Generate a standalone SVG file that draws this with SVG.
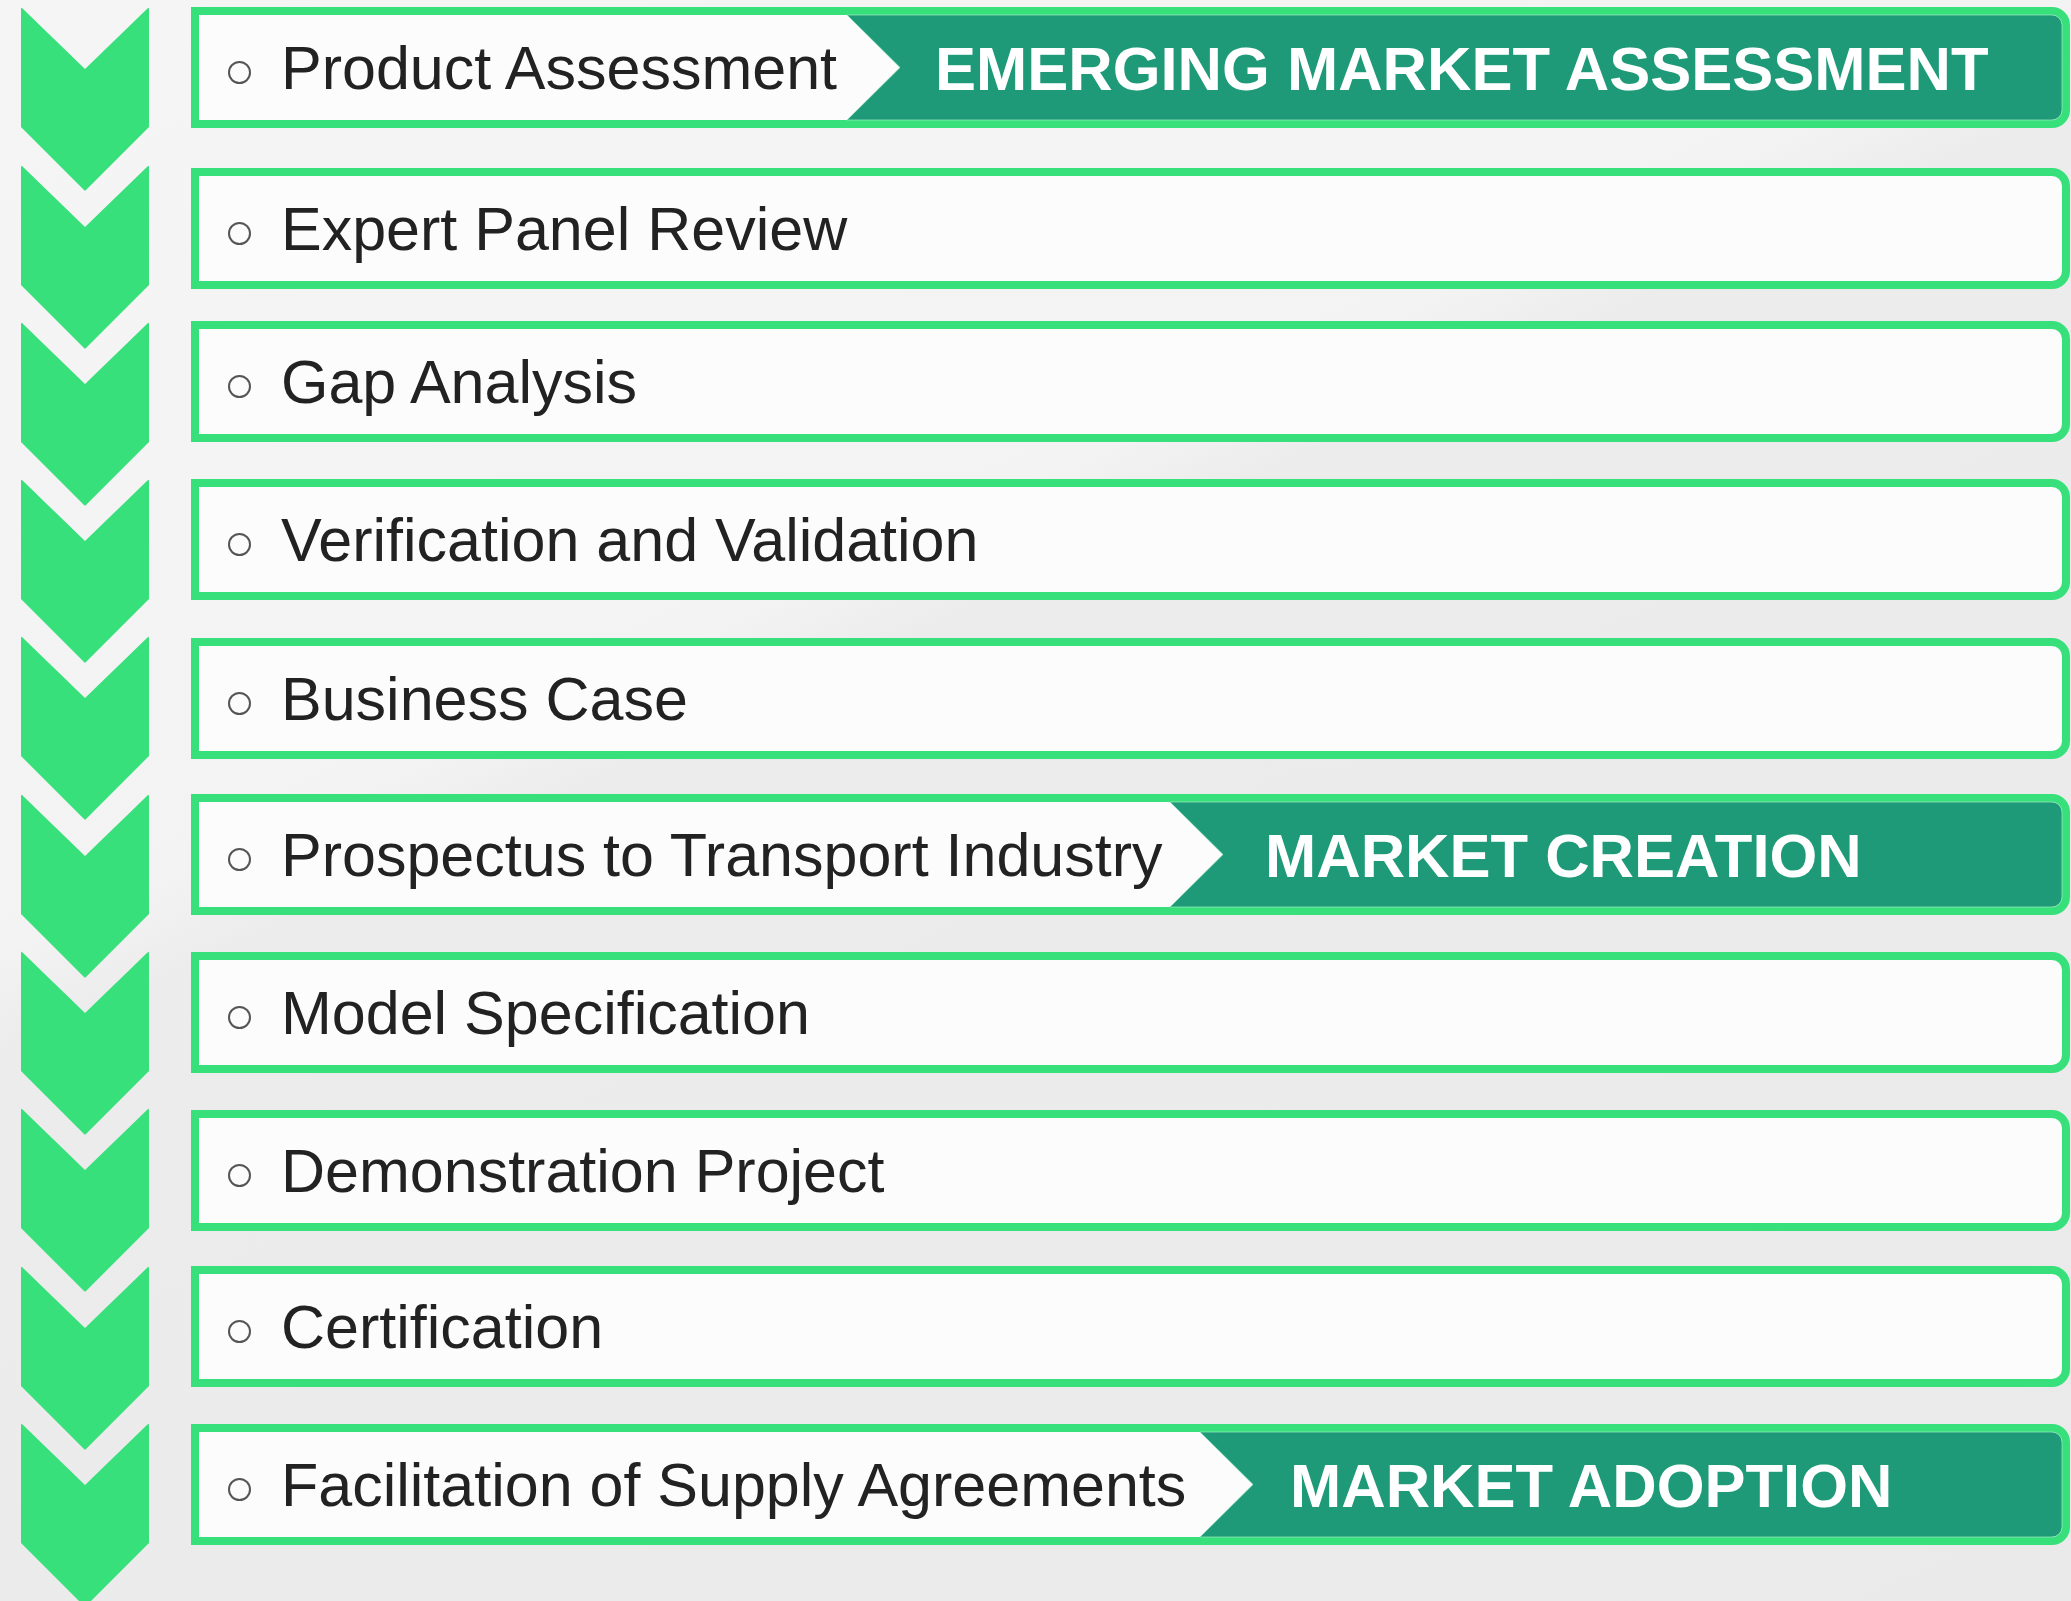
<svg xmlns="http://www.w3.org/2000/svg" width="2071" height="1601" viewBox="0 0 2071 1601">
  <defs>
    <linearGradient id="bg" gradientUnits="userSpaceOnUse" x1="0" y1="0" x2="950" y2="2071">
      <stop offset="0" stop-color="#f5f5f5"/>
      <stop offset="0.38" stop-color="#f3f3f3"/>
      <stop offset="0.42" stop-color="#ececec"/>
      <stop offset="1" stop-color="#eaeaea"/>
    </linearGradient>
    <path id="chev" d="M22,1 L85,62 L148,1 Q149,0 149,3 V120 L86,183 Q85,184 84,183 L21,120 V3 Q21,0 22,1 Z"/>
    <style>
      .box { fill: #fcfcfc; stroke: #38e07b; stroke-width: 8; }
      .banner { fill: #1f9a78; stroke: #9fe9c2; stroke-width: 1; stroke-opacity: 0.7; }
      .bullet { fill: none; stroke: #555555; stroke-width: 2; }
      .lbl { font-family: "Liberation Sans", Arial, sans-serif; font-size: 61px; fill: #222222; }
      .tag { font-family: "Liberation Sans", Arial, sans-serif; font-size: 61.5px; font-weight: bold; fill: #ffffff; }
      .chevron { fill: #38e07b; }
    </style>
  </defs>

  <rect x="0" y="0" width="2071" height="1601" fill="url(#bg)"/>

  <g id="connectors">
    <use href="#chev" class="chevron" x="0" y="7"/>
    <use href="#chev" class="chevron" x="0" y="165"/>
    <use href="#chev" class="chevron" x="0" y="322"/>
    <use href="#chev" class="chevron" x="0" y="479"/>
    <use href="#chev" class="chevron" x="0" y="636"/>
    <use href="#chev" class="chevron" x="0" y="794"/>
    <use href="#chev" class="chevron" x="0" y="951"/>
    <use href="#chev" class="chevron" x="0" y="1108"/>
    <use href="#chev" class="chevron" x="0" y="1266"/>
    <use href="#chev" class="chevron" x="0" y="1423"/>
  </g>

  <g id="step1" transform="translate(0,7)">
    <path class="box" d="M195,4 H2052 A14,14 0 0 1 2066,18 V103 A14,14 0 0 1 2052,117 H195 Z"/>
    <path class="banner" d="M847,8 H2052 A10,10 0 0 1 2062,18 V103 A10,10 0 0 1 2052,113 H847 L900,60.5 Z"/>
    <circle class="bullet" cx="239.5" cy="65.5" r="10.5"/>
    <text class="lbl" x="281" y="82">Product Assessment</text>
    <text class="tag" x="935" y="82.5">EMERGING MARKET ASSESSMENT</text>
  </g>

  <g id="step2" transform="translate(0,168)">
    <path class="box" d="M195,4 H2052 A14,14 0 0 1 2066,18 V103 A14,14 0 0 1 2052,117 H195 Z"/>
    <circle class="bullet" cx="239.5" cy="65.5" r="10.5"/>
    <text class="lbl" x="281" y="82">Expert Panel Review</text>
  </g>

  <g id="step3" transform="translate(0,321)">
    <path class="box" d="M195,4 H2052 A14,14 0 0 1 2066,18 V103 A14,14 0 0 1 2052,117 H195 Z"/>
    <circle class="bullet" cx="239.5" cy="65.5" r="10.5"/>
    <text class="lbl" x="281" y="82">Gap Analysis</text>
  </g>

  <g id="step4" transform="translate(0,479)">
    <path class="box" d="M195,4 H2052 A14,14 0 0 1 2066,18 V103 A14,14 0 0 1 2052,117 H195 Z"/>
    <circle class="bullet" cx="239.5" cy="65.5" r="10.5"/>
    <text class="lbl" x="281" y="82">Verification and Validation</text>
  </g>

  <g id="step5" transform="translate(0,638)">
    <path class="box" d="M195,4 H2052 A14,14 0 0 1 2066,18 V103 A14,14 0 0 1 2052,117 H195 Z"/>
    <circle class="bullet" cx="239.5" cy="65.5" r="10.5"/>
    <text class="lbl" x="281" y="82">Business Case</text>
  </g>

  <g id="step6" transform="translate(0,794)">
    <path class="box" d="M195,4 H2052 A14,14 0 0 1 2066,18 V103 A14,14 0 0 1 2052,117 H195 Z"/>
    <path class="banner" d="M1170,8 H2052 A10,10 0 0 1 2062,18 V103 A10,10 0 0 1 2052,113 H1170 L1223,60.5 Z"/>
    <circle class="bullet" cx="239.5" cy="65.5" r="10.5"/>
    <text class="lbl" x="281" y="82">Prospectus to Transport Industry</text>
    <text class="tag" x="1265" y="82.5">MARKET CREATION</text>
  </g>

  <g id="step7" transform="translate(0,952)">
    <path class="box" d="M195,4 H2052 A14,14 0 0 1 2066,18 V103 A14,14 0 0 1 2052,117 H195 Z"/>
    <circle class="bullet" cx="239.5" cy="65.5" r="10.5"/>
    <text class="lbl" x="281" y="82">Model Specification</text>
  </g>

  <g id="step8" transform="translate(0,1110)">
    <path class="box" d="M195,4 H2052 A14,14 0 0 1 2066,18 V103 A14,14 0 0 1 2052,117 H195 Z"/>
    <circle class="bullet" cx="239.5" cy="65.5" r="10.5"/>
    <text class="lbl" x="281" y="82">Demonstration Project</text>
  </g>

  <g id="step9" transform="translate(0,1266)">
    <path class="box" d="M195,4 H2052 A14,14 0 0 1 2066,18 V103 A14,14 0 0 1 2052,117 H195 Z"/>
    <circle class="bullet" cx="239.5" cy="65.5" r="10.5"/>
    <text class="lbl" x="281" y="82">Certification</text>
  </g>

  <g id="step10" transform="translate(0,1424)">
    <path class="box" d="M195,4 H2052 A14,14 0 0 1 2066,18 V103 A14,14 0 0 1 2052,117 H195 Z"/>
    <path class="banner" d="M1200,8 H2052 A10,10 0 0 1 2062,18 V103 A10,10 0 0 1 2052,113 H1200 L1253,60.5 Z"/>
    <circle class="bullet" cx="239.5" cy="65.5" r="10.5"/>
    <text class="lbl" x="281" y="82">Facilitation of Supply Agreements</text>
    <text class="tag" x="1290" y="82.5">MARKET ADOPTION</text>
  </g>
</svg>
